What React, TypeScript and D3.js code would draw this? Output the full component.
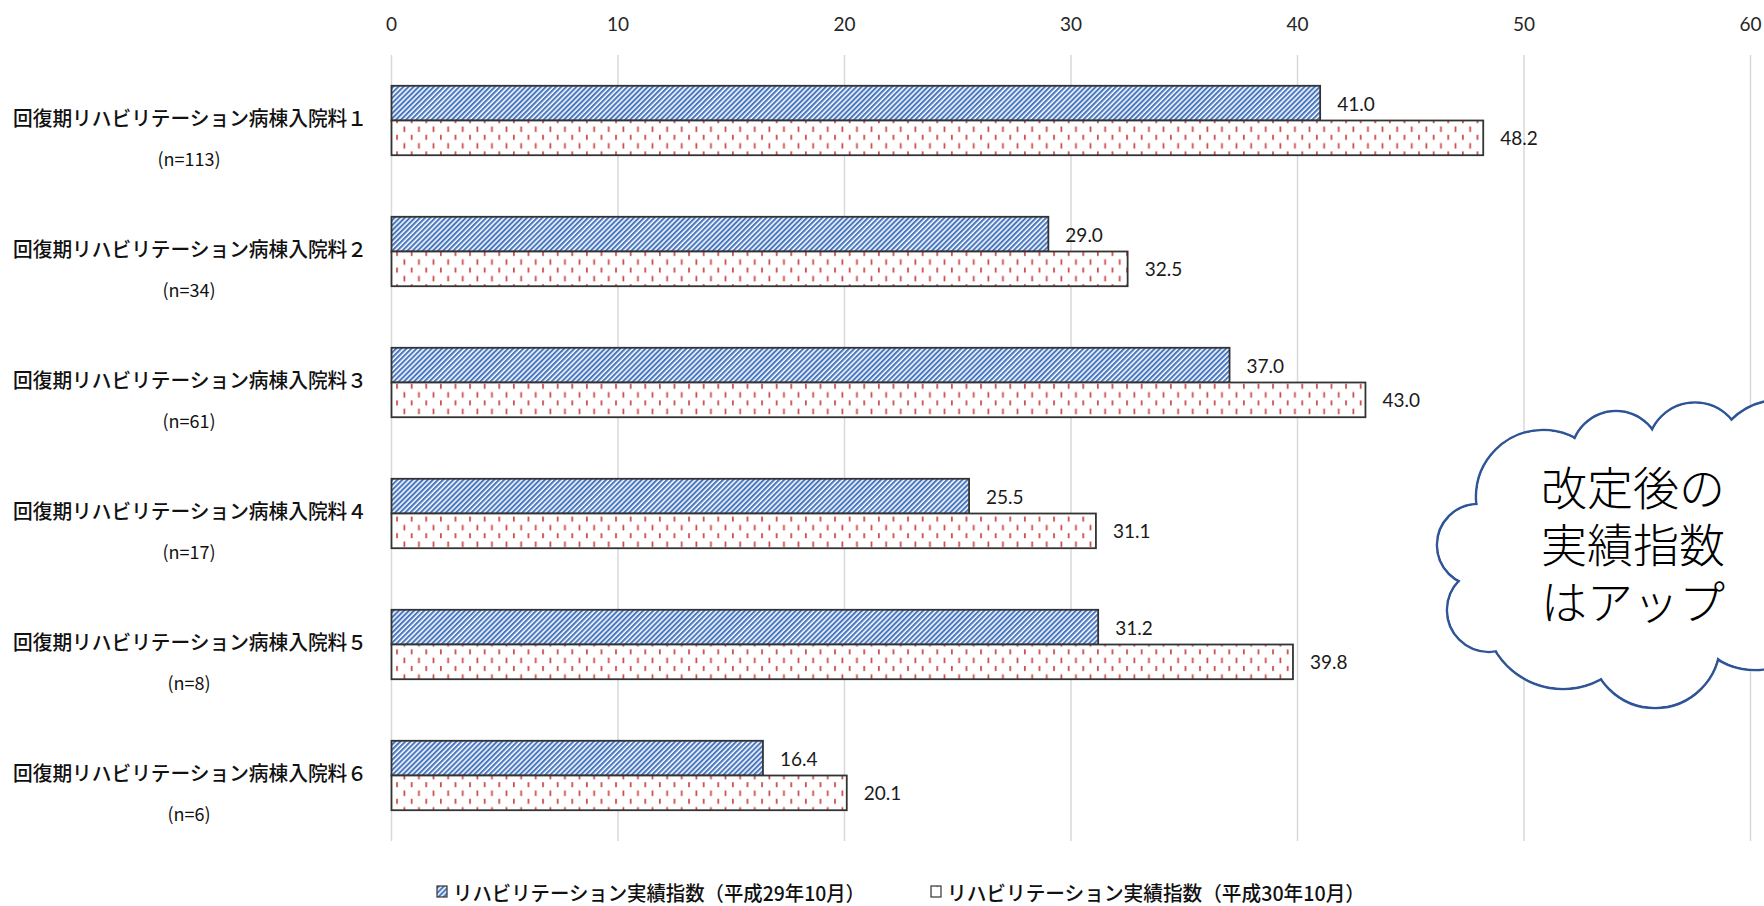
import React, { useEffect, useRef } from 'react';
import * as d3 from 'd3';

const categories = [
  '回復期リハビリテーション病棟入院料１',
  '回復期リハビリテーション病棟入院料２',
  '回復期リハビリテーション病棟入院料３',
  '回復期リハビリテーション病棟入院料４',
  '回復期リハビリテーション病棟入院料５',
  '回復期リハビリテーション病棟入院料６',
];
const sampleSizes = ['(n=113)', '(n=34)', '(n=61)', '(n=17)', '(n=8)', '(n=6)'];
const valuesH29 = [41.0, 29.0, 37.0, 25.5, 31.2, 16.4];
const valuesH30 = [48.2, 32.5, 43.0, 31.1, 39.8, 20.1];
const xTicks = [0, 10, 20, 30, 40, 50, 60];
const legendLabels = [
  'リハビリテーション実績指数（平成29年10月）',
  'リハビリテーション実績指数（平成30年10月）',
];
const cloudLines = ['改定後の', '実績指数', 'はアップ'];

const JP = '"Noto Sans CJK JP", sans-serif';
const NUM = 'Lato, "Open Sans", sans-serif';

const App = () => {
  const svgRef = useRef<SVGSVGElement>(null);

  useEffect(() => {
    const width = 1764;
    const height = 906;
    const svg = d3.select(svgRef.current);
    svg.selectAll('*').remove();
    svg.attr('width', width).attr('height', height);

    // patterns
    const defs = svg.append('defs');
    const blue = defs.append('pattern')
      .attr('id', 'hatchBlue')
      .attr('patternUnits', 'userSpaceOnUse')
      .attr('width', 3.6)
      .attr('height', 3.6)
      .attr('patternTransform', 'rotate(45)');
    blue.append('rect').attr('width', 3.6).attr('height', 3.6).attr('fill', '#ffffff');
    blue.append('rect').attr('width', 2.1).attr('height', 3.6).attr('fill', '#4a78c0');

    const red = defs.append('pattern')
      .attr('id', 'dashRed')
      .attr('patternUnits', 'userSpaceOnUse')
      .attr('width', 14.6)
      .attr('height', 16.6);
    red.append('rect').attr('width', 14.6).attr('height', 16.6).attr('fill', '#ffffff');
    red.append('rect').attr('x', 2).attr('y', 2).attr('width', 1.7).attr('height', 5).attr('fill', '#c94545');
    red.append('rect').attr('x', 9.3).attr('y', 10.3).attr('width', 1.7).attr('height', 5.5).attr('fill', '#c94545');

    const x = d3.scaleLinear().domain([0, 60]).range([391.5, 1750.5]);
    const y = d3.scaleBand<string>().domain(categories).range([55, 841]).paddingInner(0.47).paddingOuter(0.235);
    const bw = y.bandwidth() / 2;

    // gridlines
    svg.append('g').selectAll('line')
      .data(xTicks)
      .enter()
      .append('line')
      .attr('x1', (d) => x(d))
      .attr('x2', (d) => x(d))
      .attr('y1', 55)
      .attr('y2', 841)
      .attr('stroke', '#d9d9d9')
      .attr('stroke-width', 1.5);

    // tick labels
    svg.append('g').selectAll('text')
      .data(xTicks)
      .enter()
      .append('text')
      .attr('x', (d) => x(d))
      .attr('y', 23)
      .attr('text-anchor', 'middle')
      .attr('dominant-baseline', 'central')
      .style('font-family', NUM)
      .style('font-size', '19px')
      .style('fill', '#262626')
      .text((d) => d);

    // bars
    const rows = categories.map((c, i) => ({ c, a: valuesH29[i], b: valuesH30[i], n: sampleSizes[i] }));
    const g = svg.append('g');
    g.selectAll('rect.a')
      .data(rows)
      .enter()
      .append('rect')
      .attr('class', 'a')
      .attr('x', x(0))
      .attr('y', (d) => y(d.c)!)
      .attr('width', (d) => x(d.a) - x(0))
      .attr('height', bw)
      .attr('fill', 'url(#hatchBlue)')
      .attr('stroke', '#333')
      .attr('stroke-width', 1.8);
    g.selectAll('rect.b')
      .data(rows)
      .enter()
      .append('rect')
      .attr('class', 'b')
      .attr('x', x(0))
      .attr('y', (d) => y(d.c)! + bw)
      .attr('width', (d) => x(d.b) - x(0))
      .attr('height', bw)
      .attr('fill', 'url(#dashRed)')
      .attr('stroke', '#333')
      .attr('stroke-width', 1.8);

    // value labels
    const valueLabel = (sel: any, key: 'a' | 'b', off: number) => sel
      .data(rows)
      .enter()
      .append('text')
      .attr('x', (d: any) => x(d[key]) + 17)
      .attr('y', (d: any) => y(d.c)! + off)
      .attr('dominant-baseline', 'central')
      .style('font-family', NUM)
      .style('font-size', '19px')
      .style('fill', '#1a1a1a')
      .text((d: any) => d[key].toFixed(1));
    valueLabel(svg.append('g').selectAll('text'), 'a', bw / 2);
    valueLabel(svg.append('g').selectAll('text'), 'b', bw * 1.5);

    // category labels
    const cat = svg.append('g');
    cat.selectAll('text.cat')
      .data(rows)
      .enter()
      .append('text')
      .attr('class', 'cat')
      .attr('x', 190)
      .attr('y', (d) => y(d.c)! + bw - 3)
      .attr('text-anchor', 'middle')
      .attr('dominant-baseline', 'central')
      .attr('textLength', 354)
      .attr('lengthAdjust', 'spacingAndGlyphs')
      .style('font-family', JP)
      .style('font-weight', 500)
      .style('font-size', '20px')
      .style('fill', '#111')
      .text((d) => d.c);
    cat.selectAll('text.n')
      .data(rows)
      .enter()
      .append('text')
      .attr('class', 'n')
      .attr('x', 189)
      .attr('y', (d) => y(d.c)! + bw + 37)
      .attr('text-anchor', 'middle')
      .attr('dominant-baseline', 'central')
      .style('font-family', JP)
      .style('font-size', '18px')
      .style('fill', '#111')
      .text((d) => d.n);

    // legend
    const legendPos = [{ sx: 437, tx: 453, len: 412, fill: 'url(#hatchBlue)' }, { sx: 931, tx: 947, len: 418, fill: 'url(#dashRed)' }];
    const leg = svg.append('g').selectAll('g')
      .data(legendLabels)
      .enter()
      .append('g');
    leg.append('rect')
      .attr('x', (_, i) => legendPos[i].sx)
      .attr('y', 886)
      .attr('width', 10)
      .attr('height', 11)
      .attr('fill', (_, i) => legendPos[i].fill)
      .attr('stroke', '#333')
      .attr('stroke-width', 1.2);
    leg.append('text')
      .attr('x', (_, i) => legendPos[i].tx)
      .attr('y', 892)
      .attr('dominant-baseline', 'central')
      .attr('textLength', (_, i) => legendPos[i].len)
      .attr('lengthAdjust', 'spacingAndGlyphs')
      .style('font-family', JP)
      .style('font-weight', 500)
      .style('font-size', '20px')
      .style('fill', '#111')
      .text((d) => d);

    // cloud callout
    const bumps: [number, number, number][] = [
      [1543, 497, 67], [1616, 456, 45], [1695, 450, 47.5], [1780, 470, 70],
      [1755, 600, 70], [1655, 643, 65], [1563, 610, 79], [1489, 610, 42], [1478, 545, 41],
    ];
    const cloud = svg.append('g');
    cloud.selectAll('circle.o')
      .data(bumps)
      .enter()
      .append('circle')
      .attr('class', 'o')
      .attr('cx', (d) => d[0])
      .attr('cy', (d) => d[1])
      .attr('r', (d) => d[2])
      .attr('fill', '#fff')
      .attr('stroke', '#2f5597')
      .attr('stroke-width', 2.6);
    cloud.selectAll('circle.i')
      .data(bumps)
      .enter()
      .append('circle')
      .attr('class', 'i')
      .attr('cx', (d) => d[0])
      .attr('cy', (d) => d[1])
      .attr('r', (d) => d[2] - 1.3)
      .attr('fill', '#fff');
    cloud.append('polygon')
      .attr('points', bumps.map((d) => d[0] + ',' + d[1]).join(' '))
      .attr('fill', '#fff');
    cloud.append('text')
      .style('font-family', JP)
      .style('font-weight', 300)
      .style('font-size', '46px')
      .style('fill', '#000')
      .selectAll('tspan')
      .data(cloudLines)
      .enter()
      .append('tspan')
      .attr('x', 1541)
      .attr('y', (_, i) => 505 + i * 57)
      .text((d) => d);
  }, []);

  return <svg ref={svgRef} style={{ position: 'absolute', left: 0, top: 0, display: 'block' }}></svg>;
};

export default App;
